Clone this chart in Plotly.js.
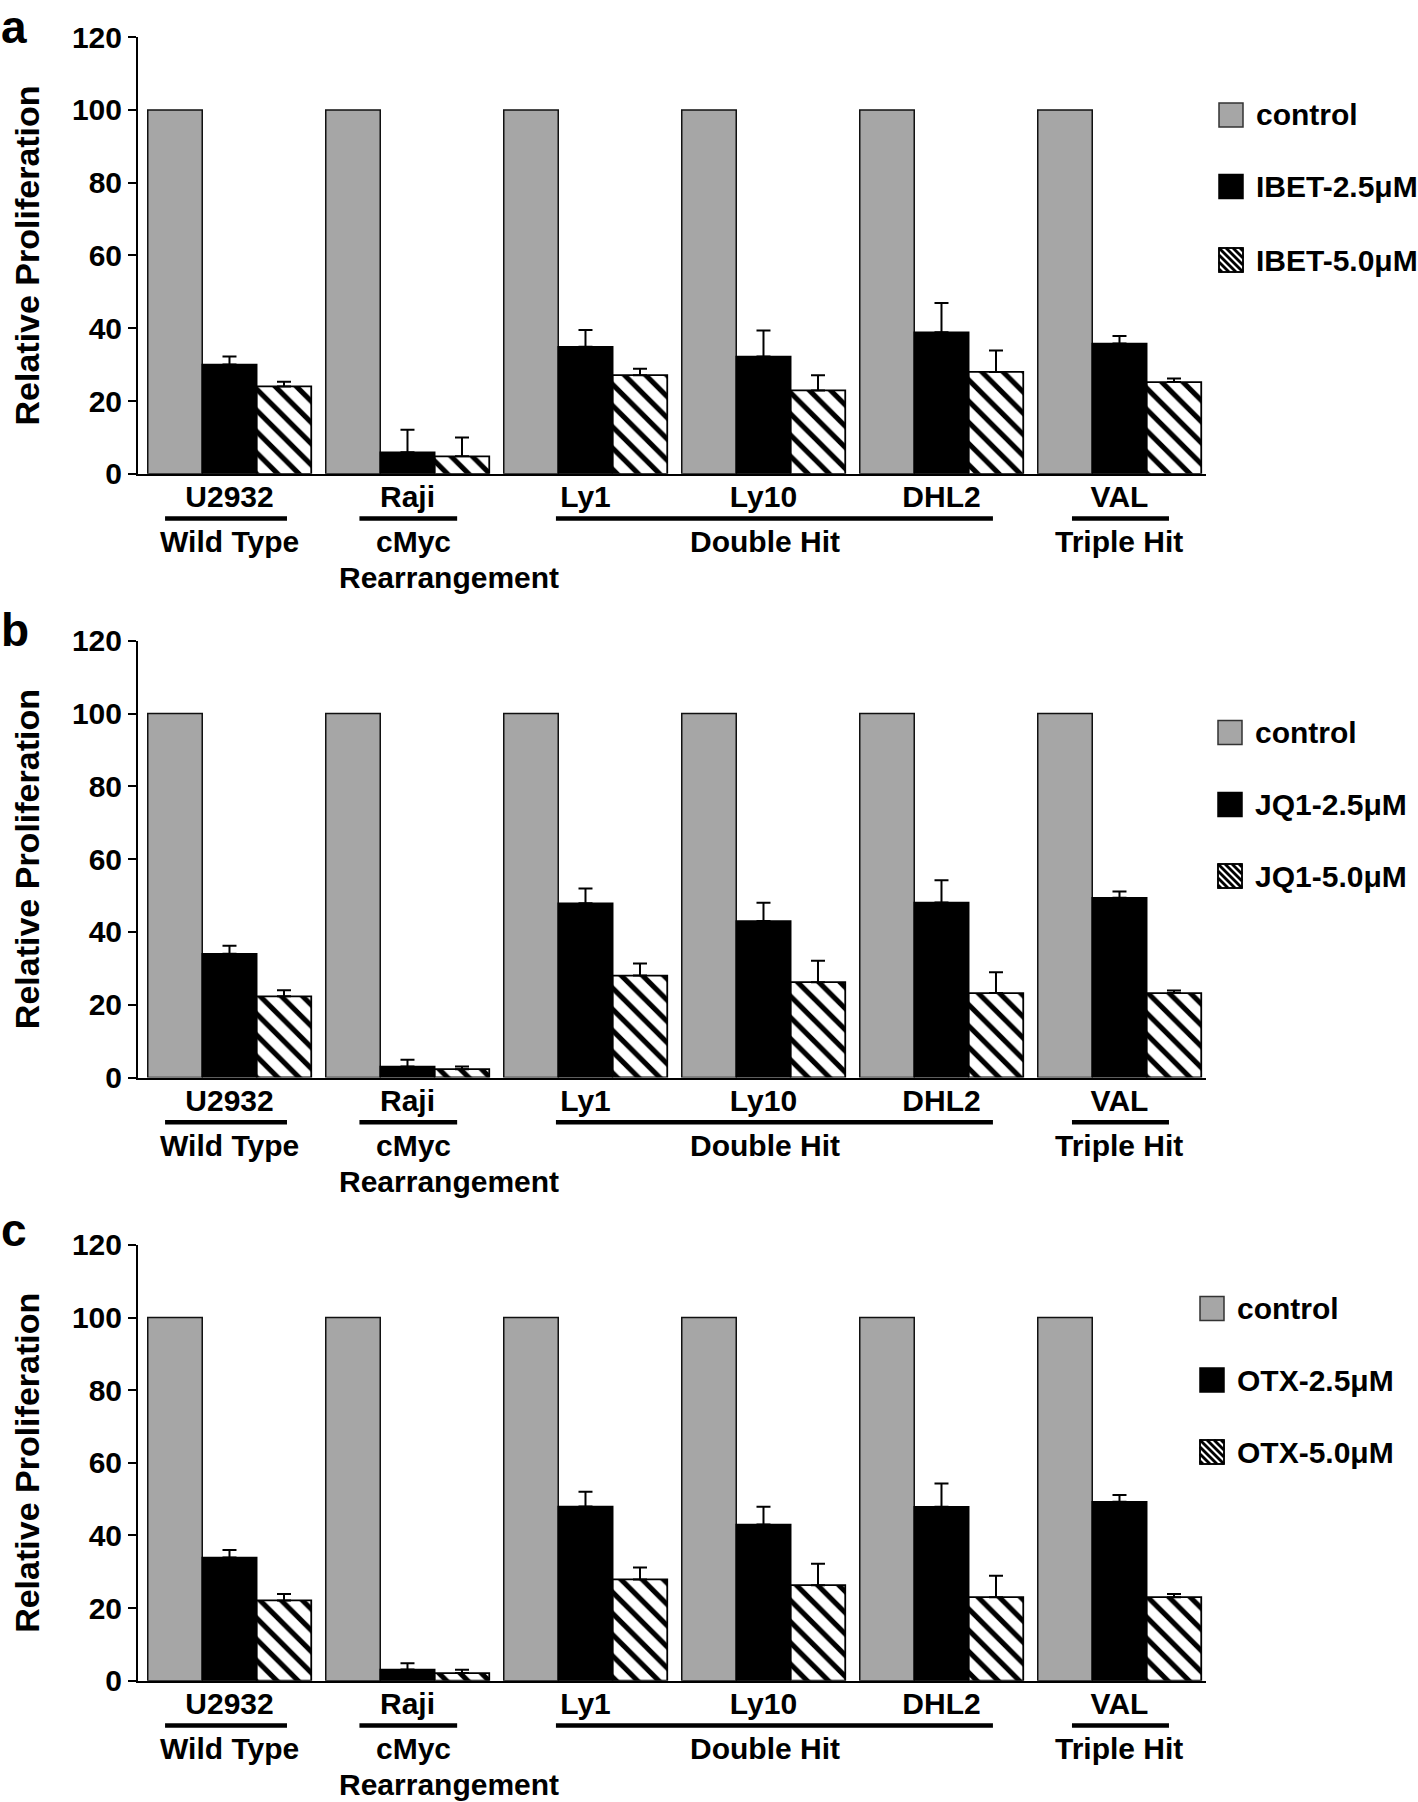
<!DOCTYPE html>
<html>
<head>
<meta charset="utf-8">
<script src="https://cdn.plot.ly/plotly-3.0.1.min.js"></script>
<style>html,body{margin:0;padding:0;background:#fff;}#chart{width:1418px;height:1802px;}</style>
</head>
<body>
<div id="chart"></div>
<script>
// ---------- data ----------
const categories = ['U2932', 'Raji', 'Ly1', 'Ly10', 'DHL2', 'VAL'];
const groupNames = ['Wild Type', 'cMyc', 'Double Hit', 'Triple Hit'];
const groupNames2 = ['Rearrangement'];
const yTicks = [0, 20, 40, 60, 80, 100, 120];
const yTitle = 'Relative Proliferation';
const panelLetters = ['a', 'b', 'c'];

const control = [100, 100, 100, 100, 100, 100];

// panel a : IBET
const ibetNames = ['control', 'IBET-2.5μM', 'IBET-5.0μM'];
const ibet25 = [30.0, 5.9, 34.9, 32.2, 38.9, 35.8];
const ibet25Err = [2.2, 6.2, 4.6, 7.2, 8.0, 2.1];
const ibet50 = [24.0, 4.8, 27.1, 22.9, 28.0, 25.2];
const ibet50Err = [1.3, 5.2, 1.8, 4.2, 5.9, 1.0];

// panel b : JQ1
const jq1Names = ['control', 'JQ1-2.5μM', 'JQ1-5.0μM'];
const jq125 = [34.0, 3.0, 47.9, 43.0, 48.1, 49.4];
const jq125Err = [2.2, 1.9, 4.0, 5.0, 6.1, 1.7];
const jq150 = [22.3, 2.3, 28.0, 26.2, 23.2, 23.2];
const jq150Err = [1.7, 0.7, 3.3, 5.9, 5.7, 0.7];

// panel c : OTX
const otxNames = ['control', 'OTX-2.5μM', 'OTX-5.0μM'];
const otx25 = [33.9, 3.1, 48.0, 43.0, 47.9, 49.3];
const otx25Err = [2.1, 1.7, 4.0, 4.9, 6.4, 1.8];
const otx50 = [22.1, 2.1, 27.9, 26.3, 23.0, 23.0];
const otx50Err = [1.8, 0.9, 3.3, 5.9, 5.9, 0.9];

// ---------- layout geometry ----------
const W = 1418, H = 1802, ML = 138, MR = 212;
const PW = W - ML - MR;
const FAM = 'Liberation Sans, Arial, Helvetica, sans-serif';
const GRAY = '#a6a6a6';
function f(size) { return {family: FAM, size: size, color: '#000', weight: 'bold'}; }
const px2x = p => (p - ML) / PW;
const py2y = p => 1 - p / H;

const panels = [
  {top: 37.1, zero: 473.8, legX: 1219, legY: [115, 186.5, 260], letterTop: 0,
   names: ibetNames, v25: ibet25, e25: ibet25Err, v50: ibet50, e50: ibet50Err},
  {top: 640.7, zero: 1077.5, legX: 1218, legY: [732.5, 804.5, 876], letterTop: 603,
   names: jq1Names, v25: jq125, e25: jq125Err, v50: jq150, e50: jq150Err},
  {top: 1244.9, zero: 1680.7, legX: 1200, legY: [1308.5, 1380, 1452], letterTop: 1203,
   names: otxNames, v25: otx25, e25: otx25Err, v50: otx50, e50: otx50Err}
];

const underlineSpans = [[-0.362, 0.323], [0.730, 1.279], [1.834, 4.289], [4.733, 5.278]];
const groupX = [0, 1.036, 3.01, 5.0];
const group2X = [1.233];

const data = [];
const layout = {
  width: W, height: H,
  margin: {l: ML, r: MR, t: 0, b: 0, pad: 0},
  paper_bgcolor: '#fff', plot_bgcolor: '#fff',
  showlegend: false,
  barmode: 'group', bargap: 0.0815, bargroupgap: 0,
  font: f(30),
  shapes: [], annotations: []
};

panels.forEach((p, i) => {
  const sfx = i === 0 ? '' : String(i + 1);
  const xa = 'x' + sfx, ya = 'y' + sfx;
  const plotH = p.zero - p.top;
  const dom = [py2y(p.zero), py2y(p.top)];
  const below = d => -d / plotH;   // px below the x axis -> y domain fraction

  const common = {type: 'bar', x: categories, xaxis: xa, yaxis: ya, cliponaxis: false};
  data.push(Object.assign({}, common, {
    name: p.names[0], y: control,
    marker: {color: GRAY, line: {color: '#111', width: 1.5}}
  }));
  data.push(Object.assign({}, common, {
    name: p.names[1], y: p.v25,
    marker: {color: '#000', line: {color: '#000', width: 1.5}},
    error_y: {type: 'data', symmetric: false, array: p.e25, arrayminus: p.e25.map(() => 0),
              color: '#000', thickness: 2, width: 7}
  }));
  data.push(Object.assign({}, common, {
    name: p.names[2], y: p.v50,
    marker: {color: '#fff', line: {color: '#000', width: 1.8},
             pattern: {shape: '\\', size: 15, solidity: 0.34, fgcolor: '#000', bgcolor: '#fff', fillmode: 'replace'}},
    error_y: {type: 'data', symmetric: false, array: p.e50, arrayminus: p.e50.map(() => 0),
              color: '#000', thickness: 2, width: 7}
  }));

  layout['xaxis' + sfx] = {
    domain: [0, 1], anchor: ya, type: 'category', range: [-0.514, 5.486],
    showline: true, linecolor: '#000', linewidth: 2,
    ticks: '', ticklabelstandoff: -5,
    tickfont: f(30), showgrid: false, zeroline: false, fixedrange: true
  };
  layout['yaxis' + sfx] = {
    domain: dom, anchor: xa, range: [0, 120], tickvals: yTicks,
    ticks: 'outside', ticklen: 8, tickwidth: 2, tickcolor: '#000',
    showline: true, linecolor: '#000', linewidth: 2,
    tickfont: f(30), showgrid: false, zeroline: false, fixedrange: true,
    title: {text: yTitle, font: f(34), standoff: 22}
  };

  // group underlines and group labels
  underlineSpans.forEach(s => {
    layout.shapes.push({type: 'line', xref: xa, yref: ya + ' domain',
      x0: s[0], x1: s[1], y0: below(44.8), y1: below(44.8),
      line: {color: '#000', width: 4.5}});
  });
  groupNames.forEach((g, k) => {
    layout.annotations.push({xref: xa, yref: ya + ' domain', x: groupX[k], y: below(68),
      text: g, showarrow: false, xanchor: 'center', yanchor: 'middle', font: f(30)});
  });
  groupNames2.forEach((g, k) => {
    layout.annotations.push({xref: xa, yref: ya + ' domain', x: group2X[k], y: below(104),
      text: g, showarrow: false, xanchor: 'center', yanchor: 'middle', font: f(30)});
  });

  // panel letter
  layout.annotations.push({xref: 'paper', yref: 'paper', x: px2x(0), y: py2y(p.letterTop),
    text: panelLetters[i], showarrow: false, xanchor: 'left', yanchor: 'top', borderpad: 0, font: f(46)});

  // legend (custom swatches)
  const sw = 24;
  p.legY.forEach((cy, k) => {
    const x0 = p.legX, y0 = cy - sw / 2;
    const fill = k === 0 ? GRAY : (k === 1 ? '#000' : '#fff');
    layout.shapes.push({type: 'rect', xref: 'paper', yref: 'paper',
      x0: px2x(x0), x1: px2x(x0 + sw), y0: py2y(y0 + sw), y1: py2y(y0),
      fillcolor: fill, line: {color: k === 0 ? '#333' : '#000', width: 1.5}});
    if (k === 2) {
      [-21, -14, -7, 0, 7, 14, 21].forEach(c => {
        const ax = Math.max(0, c), ay = Math.max(0, -c);
        const bx = Math.min(sw, sw + c), by = Math.min(sw, sw - c);
        layout.shapes.push({type: 'line', xref: 'paper', yref: 'paper',
          x0: px2x(x0 + ax), y0: py2y(y0 + ay), x1: px2x(x0 + bx), y1: py2y(y0 + by),
          line: {color: '#000', width: 2.8}});
      });
      layout.shapes.push({type: 'rect', xref: 'paper', yref: 'paper',
        x0: px2x(x0), x1: px2x(x0 + sw), y0: py2y(y0 + sw), y1: py2y(y0),
        fillcolor: 'rgba(0,0,0,0)', line: {color: '#000', width: 1.5}});
    }
    layout.annotations.push({xref: 'paper', yref: 'paper', x: px2x(x0 + 35), y: py2y(cy),
      text: p.names[k], showarrow: false, xanchor: 'left', yanchor: 'middle', font: f(30)});
  });
});

Plotly.newPlot('chart', data, layout, {staticPlot: true, displayModeBar: false});
</script>
</body>
</html>
